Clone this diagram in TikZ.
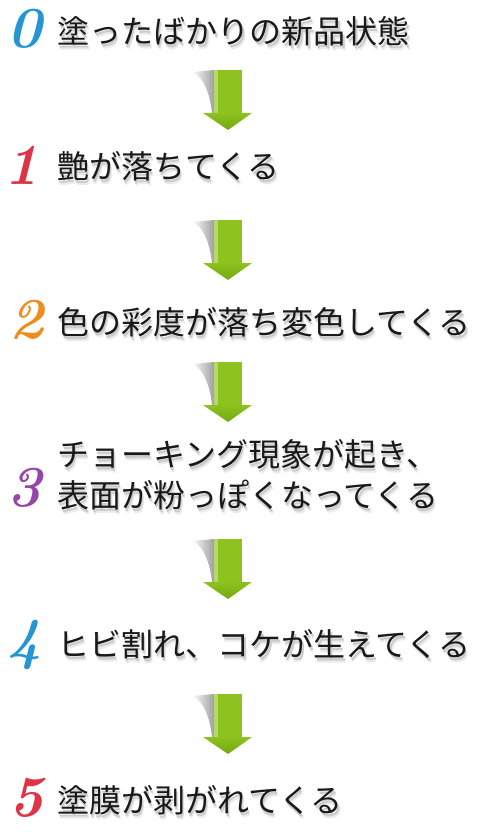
\documentclass[tikz,border=0pt]{standalone}
\usepackage{fontspec}
\newfontfamily\jpfont{Noto Sans CJK JP}
\usetikzlibrary{positioning}

\definecolor{leafgreen}{RGB}{141,194,31}
\definecolor{leafdark}{RGB}{116,168,18}
\definecolor{ringred}{RGB}{222,52,72}
\definecolor{ringblue}{RGB}{38,150,210}
\definecolor{ringorange}{RGB}{240,140,30}
\definecolor{ringpurple}{RGB}{150,70,170}
\newcommand{\softshadow}[1]{\rlap{\hspace{2.5pt}\raisebox{-5pt}{\textcolor{black!8}{#1}}}\rlap{\hspace{1.5pt}\raisebox{-3pt}{\textcolor{black!20}{#1}}}#1}

\tikzset{
  stage/.style={anchor=west, inner sep=0pt, align=left,
    font=\jpfont\fontsize{32}{41}\selectfont, text=black!90},
  numeral/.style={anchor=base, inner sep=0pt, font=\fontsize{58}{58}\selectfont\bfseries\itshape},
  downarrow/.pic={
    \shade[left color=gray!5, right color=gray!75] (-14,0) -- (-35,2) .. controls (-24,8) and (-18,24) .. (-16,43) -- (-14,43) -- cycle;
    \fill[leafgreen] (-14,0) rectangle (14,43);
    \fill[leafgreen!65!white] (-14,0) rectangle (-10,43);
    \shade[top color=leafgreen, bottom color=leafdark] (-25,43) -- (24,43) -- (0,60) -- cycle;
  }
}

\begin{document}
\begin{tikzpicture}[x=1pt, y=-1pt]
\useasboundingbox (0,0) rectangle (479,832);

\node[numeral, text=ringblue] (n0) at (25,48) {0};
\node[numeral, text=ringred] (n1) at (22,184) {1};
\node[numeral, text=ringorange] (n2) at (27,338) {2};
\node[numeral, text=ringpurple] (n3) at (25,506) {3};
\node[numeral, text=ringblue] (n4) at (25,658) {4};
\node[numeral, text=ringred] (n5) at (27,816) {5};

\node[stage] (s0) at (57,34) {\softshadow{塗ったばかりの新品状態}};
\node[stage] (s1) at (57,169) {\softshadow{艶が落ちてくる}};
\node[stage] (s2) at (57,325) {\softshadow{色の彩度が落ち変色してくる}};
\node[stage] (s3) at (57,477.5) {\softshadow{チョーキング現象が起き、}\\\softshadow{表面が粉っぽくなってくる}};
\node[stage] (s4) at (57,647) {\softshadow{ヒビ割れ、コケが生えてくる}};
\node[stage] (s5) at (57,803) {\softshadow{塗膜が剥がれてくる}};

\pic at (228,70) {downarrow};
\pic at (228,220) {downarrow};
\pic at (228,362) {downarrow};
\pic at (228,539) {downarrow};
\pic at (228,694) {downarrow};

\end{tikzpicture}
\end{document}
